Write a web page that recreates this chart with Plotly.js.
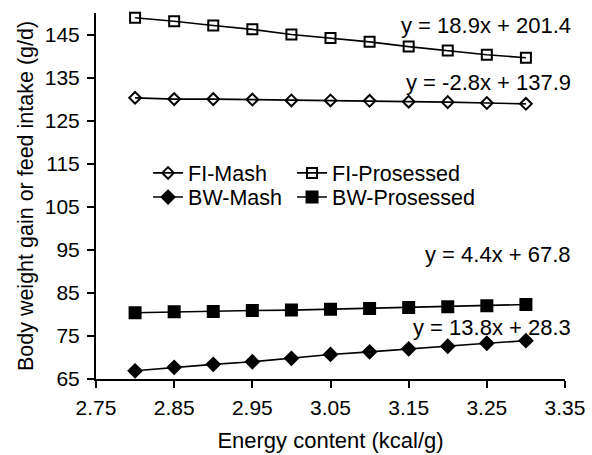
<!DOCTYPE html>
<html><head><meta charset="utf-8">
<script src="https://cdn.plot.ly/plotly-3.0.1.min.js"></script>
<style>body{margin:0;background:#fff}#c{width:592px;height:455px}</style>
</head><body><div id="c"></div>
<script>
const energy = [2.80, 2.85, 2.90, 2.95, 3.00, 3.05, 3.10, 3.15, 3.20, 3.25, 3.30];
const fiMash = [130.3, 130.0, 130.0, 129.9, 129.7, 129.7, 129.6, 129.4, 129.3, 129.1, 128.9];
const fiProcessed = [148.9, 148.1, 147.1, 146.2, 145.0, 144.2, 143.3, 142.2, 141.3, 140.3, 139.6];
const bwMash = [66.9, 67.7, 68.4, 69.0, 69.8, 70.7, 71.3, 72.0, 72.6, 73.3, 73.9];
const bwProcessed = [80.4, 80.6, 80.7, 80.9, 81.0, 81.2, 81.4, 81.6, 81.8, 82.0, 82.3];
const seriesNames = ["FI-Mash", "FI-Prosessed", "BW-Mash", "BW-Prosessed"];
const equations = ["y = 18.9x + 201.4", "y = -2.8x + 137.9", "y = 4.4x + 67.8", "y = 13.8x + 28.3"];
const xTicks = [2.75, 2.85, 2.95, 3.05, 3.15, 3.25, 3.35];
const yTicks = [65, 75, 85, 95, 105, 115, 125, 135, 145];

const FAM = "Liberation Sans, Arial, sans-serif";
const ys = [fiMash, fiProcessed, bwMash, bwProcessed];
const syms = ["diamond-open", "square-open", "diamond", "square"];
const sizes = [9, 10, 10, 11];
const legendRef = ["legend", "legend2", "legend3", "legend4"];
const traces = ys.map((y, i) => ({
  x: energy, y: y, name: seriesNames[i], type: "scatter", mode: "lines+markers",
  legend: legendRef[i],
  line: {color: "#000", width: 1.6},
  marker: {symbol: syms[i], size: sizes[i], color: "#000", line: {color: "#000", width: 2}},
  cliponaxis: false
}));
const eqPos = [0.967, 0.811, 0.339, 0.142];
const annotations = equations.map((t, i) => ({
  text: t, x: 1.017, xref: "paper", y: eqPos[i], yref: "paper", xanchor: "right", yanchor: "middle",
  showarrow: false, font: {family: FAM, size: 22, color: "#000"}
}));
const legCommon = {orientation: "h", xanchor: "left", yanchor: "middle",
  font: {family: FAM, size: 21.5, color: "#000"},
  bgcolor: "rgba(0,0,0,0)", borderwidth: 0, itemwidth: 30};
const legX = [0.111, 0.418, 0.111, 0.418];
const legY = [0.563, 0.563, 0.497, 0.497];
const layout = {
  width: 592, height: 455,
  margin: {l: 96, r: 27, t: 13, b: 76},
  paper_bgcolor: "#fff", plot_bgcolor: "#fff",
  font: {family: FAM, size: 21, color: "#000"},
  showlegend: true,
  xaxis: {range: [2.75, 3.35], tickvals: xTicks, ticktext: xTicks.map(v => v.toFixed(2)),
          showgrid: false, zeroline: false, showline: true, linecolor: "#000", linewidth: 2,
          ticks: "outside", ticklen: 7, tickwidth: 2, tickcolor: "#000", ticklabelstandoff: 2,
          tickfont: {family: FAM, size: 21, color: "#000"},
          title: {text: "Energy content (kcal/g)", font: {family: FAM, size: 22, color: "#000"}, standoff: 14}},
  yaxis: {range: [65, 150], tickvals: yTicks, ticktext: yTicks.map(String),
          showgrid: false, zeroline: false, showline: true, linecolor: "#000", linewidth: 2,
          ticks: "outside", ticklen: 7, tickwidth: 2, tickcolor: "#000", ticklabelstandoff: 3,
          tickfont: {family: FAM, size: 21, color: "#000"},
          title: {text: "Body weight gain or feed intake (g/d)", font: {family: FAM, size: 21.5, color: "#000"}, standoff: 5}},
  annotations: annotations
};
legendRef.forEach((k, i) => { layout[k] = Object.assign({x: legX[i], y: legY[i]}, legCommon); });
Plotly.newPlot("c", traces, layout, {staticPlot: true, displayModeBar: false});
</script></body></html>
